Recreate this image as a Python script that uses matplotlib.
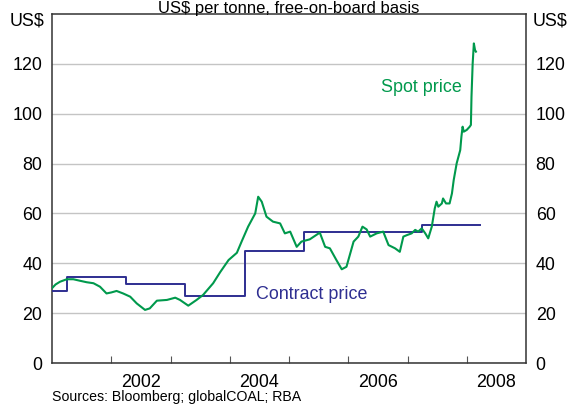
import numpy as np
import matplotlib
matplotlib.use("Agg")
from matplotlib import pyplot as plt

plt.rcParams['font.family'] = ['Liberation Sans', 'DejaVu Sans']

# spot price (US$/t, fob)
spot_dates = [2001.00, 2001.06, 2001.135, 2001.25, 2001.36, 2001.47, 2001.585, 2001.70,
              2001.81, 2001.92, 2002.00, 2002.09, 2002.20, 2002.32, 2002.43, 2002.57,
              2002.65, 2002.77, 2002.94, 2003.08, 2003.16, 2003.30, 2003.44, 2003.55,
              2003.72, 2003.84, 2003.98, 2004.12, 2004.20, 2004.31, 2004.43, 2004.48,
              2004.54, 2004.62, 2004.73, 2004.85, 2004.93, 2005.02, 2005.13, 2005.21,
              2005.35, 2005.52, 2005.61, 2005.69, 2005.80, 2005.89, 2005.97, 2006.09,
              2006.17, 2006.24, 2006.31, 2006.37, 2006.48, 2006.59, 2006.68, 2006.79,
              2006.87, 2006.93, 2006.99, 2007.07, 2007.13, 2007.18, 2007.24, 2007.30,
              2007.35, 2007.41, 2007.46, 2007.49, 2007.52, 2007.58, 2007.60, 2007.65,
              2007.71, 2007.75, 2007.78, 2007.83, 2007.89, 2007.91, 2007.93, 2007.95,
              2008.00, 2008.05, 2008.07, 2008.08, 2008.10, 2008.12, 2008.14, 2008.155]
spot_vals = [30.0, 31.5, 32.6, 33.6, 33.6, 33.0, 32.4, 32.0,
             30.6, 27.9, 28.3, 28.9, 27.9, 26.6, 23.9, 21.3,
             21.9, 25.0, 25.3, 26.2, 25.3, 23.0, 25.3, 27.3,
             32.0, 36.5, 41.3, 44.2, 48.7, 54.7, 60.0, 66.7,
             64.7, 58.7, 56.7, 56.0, 52.0, 52.7, 46.6, 48.7,
             49.6, 52.3, 46.6, 46.0, 41.3, 37.6, 38.6, 48.7,
             50.7, 54.7, 53.6, 50.7, 52.0, 52.7, 47.3, 46.0,
             44.6, 50.7, 51.3, 52.0, 53.4, 52.7, 54.0, 52.0,
             50.0, 54.7, 62.0, 64.7, 62.7, 64.0, 66.0, 64.0,
             64.0, 68.0, 73.4, 80.1, 85.4, 90.8, 94.8, 92.8,
             93.5, 94.8, 95.5, 106.8, 120.2, 128.2, 125.5, 124.9]

# Japanese fiscal-year contract price
contract_dates = [2001.0, 2001.25, 2002.25, 2003.25, 2004.25, 2005.25, 2006.25, 2007.25, 2008.22]
contract_vals = [28.75, 34.5, 31.85, 26.75, 45.0, 52.5, 52.5, 55.5, 55.5]

year_ticks = [2002, 2003, 2004, 2005, 2006, 2007, 2008]
year_labels = ['2002', '2004', '2006', '2008']
y_ticks = [0, 20, 40, 60, 80, 100, 120]

green = '#00994c'
navy = '#2e2e91'
fs = 12.9

fig = plt.figure(figsize=(5.67, 4.07), dpi=100)
ax = fig.add_axes([52/567, 44/407, 474/567, 349/407])

ax.plot(contract_dates, contract_vals, drawstyle='steps-post', color=navy, lw=1.4, zorder=3)
ax.plot(spot_dates, spot_vals, color=green, lw=1.5, zorder=4)

ax.set_xlim(2001, 2009)
ax.set_ylim(0, 140)

ax.set_yticks(y_ticks)
ax.yaxis.grid(True, color='#c4c4c4', lw=1.0)
ax.set_axisbelow(True)
ax.tick_params(axis='y', length=0, labelsize=fs, pad=7, labelright=True, right=True)

ax.set_xticks(year_ticks)
ax.set_xticklabels([])
ax.set_xticks([int(l) + 0.5 for l in year_labels], minor=True)
ax.set_xticklabels(year_labels, minor=True)
ax.tick_params(axis='x', which='major', direction='in', length=5, color='#555555')
ax.tick_params(axis='x', which='minor', length=0, labelsize=fs, pad=8)

for s in ax.spines.values():
    s.set_color('#333333')
    s.set_linewidth(1.1)

tr = ax.get_yaxis_transform()
ax.text(-0.017, 137, 'US$', transform=tr, ha='right', va='center', fontsize=fs)
ax.text(1.015, 137, 'US$', transform=tr, ha='left', va='center', fontsize=fs)

ax.text(2007.23, 110.5, 'Spot price', color=green, ha='center', va='center', fontsize=fs)
ax.text(2004.44, 27.3, 'Contract price', color=navy, ha='left', va='center', fontsize=fs)

fig.text(289/567, 1 - 0.5/407, 'US$ per tonne, free-on-board basis', ha='center', va='top', fontsize=12)
fig.text(52/567, 1 - 397/407, 'Sources: Bloomberg; globalCOAL; RBA', ha='left', va='center', fontsize=10.2)

fig.savefig('out.png', dpi=100)
